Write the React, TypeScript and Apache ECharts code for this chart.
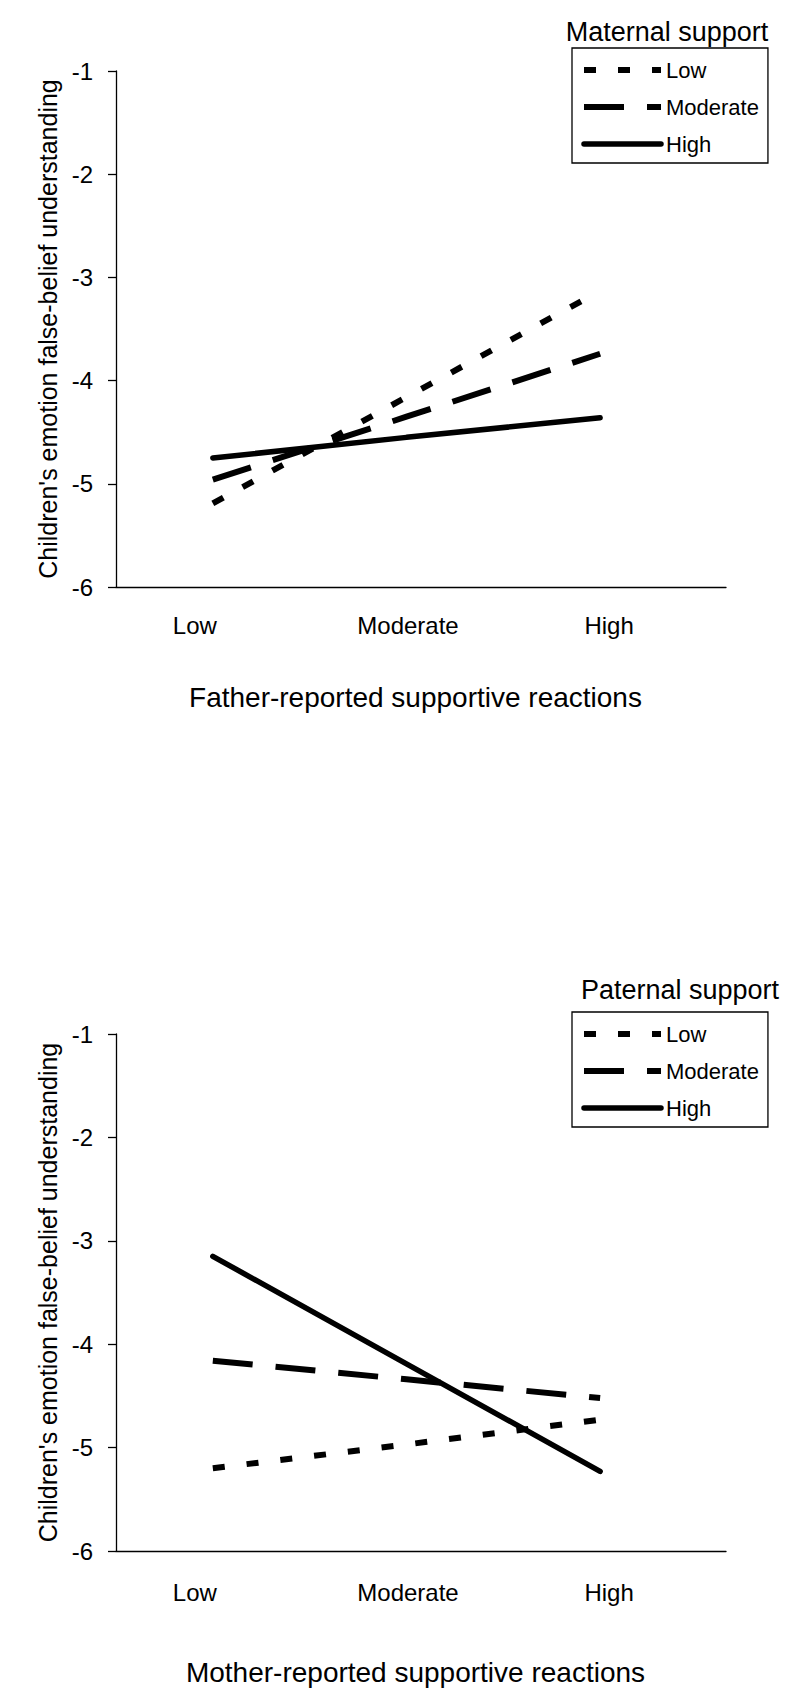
import React, { useEffect, useRef } from "react";
import * as echarts from "echarts";

const categories = ["Low", "Moderate", "High"];
const levels = ["Low", "Moderate", "High"];

// Top panel: Father-reported supportive reactions x Maternal support
const topLow = [-5.19, -4.16, -3.13];
const topModerate = [-4.96, -4.35, -3.74];
const topHigh = [-4.75, -4.55, -4.36];

// Bottom panel: Mother-reported supportive reactions x Paternal support
const bottomLow = [-5.2, -4.97, -4.73];
const bottomModerate = [-4.16, -4.34, -4.52];
const bottomHigh = [-3.15, -4.19, -5.23];

const yMin = -6;
const yMax = -1;

const FONT = "Liberation Sans, Arial, Helvetica, sans-serif";

const lineStyles: Record<string, any> = {
  Low: { type: [12, 22], width: 6, cap: "butt" },
  Moderate: { type: [40, 23], width: 6, cap: "butt" },
  High: { type: "solid", width: 5.5, cap: "round" },
};

const labelShift: Record<string, number[]> = {
  Low: [0, 36, 0, 0],
  Moderate: [0, 0, 0, 3],
  High: [0, 0, 0, 18],
};

function makeSeries(values: number[][], idx: number) {
  return levels.map((lv, i) => ({
    name: lv,
    type: "line",
    xAxisIndex: idx,
    yAxisIndex: idx,
    symbol: "none",
    silent: true,
    data: values[i].map((v, k) => [k, v]),
    lineStyle: { color: "#000", ...lineStyles[lv] },
    itemStyle: { color: "#000" },
    z: 3,
  }));
}

function makeXAxis(idx: number, name: string, nameGap: number, labelMargin: number) {
  const rich: Record<string, any> = {};
  categories.forEach((c, i) => {
    rich["c" + i] = {
      fontSize: 24,
      fontFamily: FONT,
      color: "#000",
      padding: labelShift[c],
    };
  });
  return {
    type: "value",
    gridIndex: idx,
    min: -0.5,
    max: 2.65,
    name,
    nameLocation: "middle",
    nameGap,
    nameTextStyle: { fontSize: 28, fontFamily: FONT, color: "#000", padding: [0, 11, 0, 0] },
    axisLine: { show: true, onZero: false, lineStyle: { color: "#000", width: 1.3 } },
    axisTick: { show: false },
    splitLine: { show: false },
    axisLabel: {
      customValues: [0, 1, 2],
      margin: labelMargin,
      fontSize: 24,
      fontFamily: FONT,
      color: "#000",
      formatter: (v: number) => {
        const i = Math.round(v);
        return "{c" + i + "|" + categories[i] + "}";
      },
      rich,
    },
  };
}

function makeYAxis(idx: number) {
  return {
    type: "value",
    gridIndex: idx,
    min: yMin,
    max: yMax,
    interval: 1,
    name: "Children's emotion false-belief understanding",
    nameLocation: "middle",
    nameGap: 53,
    nameTextStyle: { fontSize: 25, fontFamily: FONT, color: "#000" },
    axisLine: { show: true, onZero: false, lineStyle: { color: "#000", width: 1.3 } },
    axisTick: { show: true, inside: false, length: 8, lineStyle: { color: "#000", width: 1.3 } },
    splitLine: { show: false },
    axisLabel: { fontSize: 24, fontFamily: FONT, color: "#000", margin: 23 },
  };
}

function makeLegend(top: number) {
  return {
    orient: "vertical",
    left: 572,
    top,
    data: levels,
    padding: [11, 9, 8, 9],
    itemGap: 15,
    itemWidth: 77,
    itemHeight: 14,
    borderColor: "#000",
    borderWidth: 1.3,
    selectedMode: false,
    textStyle: { fontSize: 22, fontFamily: FONT, color: "#000" },
    lineStyle: { width: "inherit" },
    itemStyle: { color: "rgba(0,0,0,0)", borderWidth: 0, opacity: 0 },
  };
}

export default function App() {
  const ref = useRef<HTMLDivElement>(null);

  useEffect(() => {
    if (!ref.current) return;
    const chart = echarts.init(ref.current, undefined, { renderer: "svg" });
    const option: any = {
      animation: false,
      backgroundColor: "#fff",
      grid: [
        { left: 116, top: 71, width: 610, height: 516 },
        { left: 116, top: 1034, width: 610, height: 517 },
      ],
      xAxis: [
        makeXAxis(0, "Father-reported supportive reactions", 96, 26),
        makeXAxis(1, "Mother-reported supportive reactions", 107, 29),
      ],
      yAxis: [makeYAxis(0), makeYAxis(1)],
      legend: [makeLegend(48), makeLegend(1012)],
      graphic: [
        {
          type: "text",
          x: 667,
          y: 32,
          style: {
            text: "Maternal support",
            fontSize: 27,
            fontFamily: FONT,
            fill: "#000",
            align: "center",
            verticalAlign: "middle",
          },
        },
        {
          type: "text",
          x: 680,
          y: 990,
          style: {
            text: "Paternal support",
            fontSize: 27,
            fontFamily: FONT,
            fill: "#000",
            align: "center",
            verticalAlign: "middle",
          },
        },
      ],
      series: [
        ...makeSeries([topLow, topModerate, topHigh], 0),
        ...makeSeries([bottomLow, bottomModerate, bottomHigh], 1),
      ],
    };
    chart.setOption(option);
    return () => chart.dispose();
  }, []);

  return (
    <div
      ref={ref}
      style={{ position: "absolute", left: 0, top: 0, width: 800, height: 1699, background: "#fff" }}
    />
  );
}
